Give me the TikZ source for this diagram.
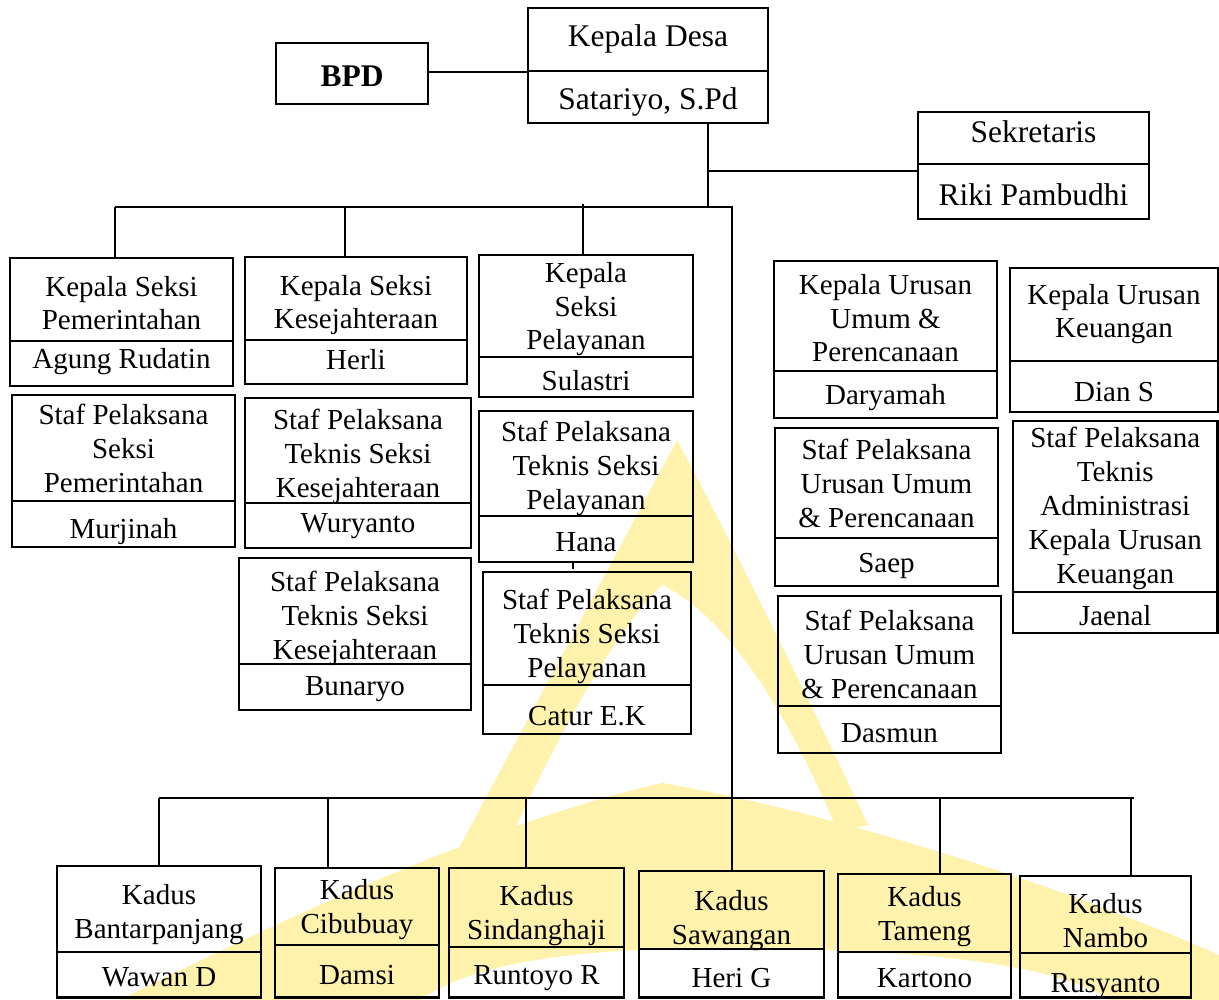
\documentclass[tikz,border=0pt]{standalone}
\usepackage{fontspec}
\setmainfont{Liberation Serif}
\definecolor{wm}{RGB}{255,242,172}
\tikzset{
 boxst/.style={draw, line width=2.9pt, inner sep=0pt, outer sep=0pt, anchor=north west},
 divst/.style={line width=1.2pt},
 conn/.style={line width=1.3pt},
 txt/.style={font=\fontsize{29}{33.8}\selectfont, align=center, anchor=base, inner sep=0pt},
 bigtxt/.style={font=\fontsize{31.5}{36}\selectfont, align=center, anchor=base, inner sep=0pt},
}
\newcommand\orgframe[6]{%
 \node[boxst, minimum width={(#4-#2)*1pt}, minimum height={(#5-#3)*1pt}] (#1) at (#2,#3) {};
 \draw[divst] (#2,#6) -- (#4,#6);}
\begin{document}
\begin{tikzpicture}[x=1pt,y=-1pt]
\useasboundingbox (0,0) rectangle (1219,1000);
\fill[white] (0,0) rectangle (1219,1000);
% watermark
\fill[wm] (677,440) .. controls (720,520) and (800,680) .. (868,825) -- (838,832)
  .. controls (795,730) and (735,620) .. (662,585)
  .. controls (615,630) and (555,740) .. (505,850) -- (458,850)
  -- cycle;
\fill[wm] (120,1000) .. controls (300,910) and (500,820) .. (662,783)
  .. controls (820,810) and (1050,880) .. (1219,955) -- (1219,1000) -- (1110,1000)
  .. controls (1050,960) and (900,948) .. (700,948)
  .. controls (560,950) and (470,965) .. (420,1000) -- cycle;
% boxes
\node[boxst, minimum width=152pt, minimum height=61pt] (bpd) at (276,43) {};
\node[bigtxt, font=\fontsize{31.5}{36}\selectfont\bfseries] (bpdt) at (bpd.center |- 0,87) {BPD};
\orgframe{kd}{528}{8}{768}{123}{71}
\node[bigtxt] (kdt) at (kd |- 0,47) {Kepala Desa};
\node[bigtxt] (kdb) at (kd |- 0,110) {Satariyo, S.Pd};
\orgframe{sek}{918}{112}{1149}{219}{164}
\node[bigtxt] (sekt) at (sek |- 0,143) {Sekretaris};
\node[bigtxt] (sekb) at (sek |- 0,206) {Riki Pambudhi};
\orgframe{ksp}{10}{258}{233}{386}{341}
\node[txt] (kspt) at (ksp |- 0,330) {Kepala Seksi\\Pemerintahan};
\node[txt] (kspb) at (ksp |- 0,369) {Agung Rudatin};
\orgframe{ksk}{245}{257}{467}{384}{340}
\node[txt] (kskt) at (ksk |- 0,329) {Kepala Seksi\\Kesejahteraan};
\node[txt] (kskb) at (ksk |- 0,370) {Herli};
\orgframe{ksl}{479}{255}{693}{397}{357}
\node[txt] (kslt) at (ksl |- 0,350) {Kepala\\Seksi\\Pelayanan};
\node[txt] (kslb) at (ksl |- 0,391) {Sulastri};
\orgframe{sp1}{12}{395}{235}{547}{501}
\node[txt] (sp1t) at (sp1 |- 0,492) {Staf Pelaksana\\Seksi\\Pemerintahan};
\node[txt] (sp1b) at (sp1 |- 0,538) {Murjinah};
\orgframe{sk1}{245}{398}{471}{548}{503}
\node[txt] (sk1t) at (sk1 |- 0,497) {Staf Pelaksana\\Teknis Seksi\\Kesejahteraan};
\node[txt] (sk1b) at (sk1 |- 0,532) {Wuryanto};
\orgframe{sk2}{239}{558}{471}{710}{664}
\node[txt] (sk2t) at (sk2 |- 0,659) {Staf Pelaksana\\Teknis Seksi\\Kesejahteraan};
\node[txt] (sk2b) at (sk2 |- 0,695) {Bunaryo};
\orgframe{sl1}{479}{411}{693}{562}{516}
\node[txt] (sl1t) at (sl1 |- 0,509) {Staf Pelaksana\\Teknis Seksi\\Pelayanan};
\node[txt] (sl1b) at (sl1 |- 0,551) {Hana};
\orgframe{sl2}{483}{572}{691}{734}{685}
\node[txt] (sl2t) at (sl2 |- 0,677) {Staf Pelaksana\\Teknis Seksi\\Pelayanan};
\node[txt] (sl2b) at (sl2 |- 0,725) {Catur E.K};
\orgframe{kuu}{774}{261}{997}{418}{371}
\node[txt] (kuut) at (kuu |- 0,362) {Kepala Urusan\\Umum \&\\Perencanaan};
\node[txt] (kuub) at (kuu |- 0,405) {Daryamah};
\orgframe{kuk}{1010}{268}{1218}{412}{361}
\node[txt] (kukt) at (kuk |- 0,338) {Kepala Urusan\\Keuangan};
\node[txt] (kukb) at (kuk |- 0,402) {Dian S};
\orgframe{su1}{775}{428}{998}{586}{538}
\node[txt] (su1t) at (su1 |- 0,527) {Staf Pelaksana\\Urusan Umum\\\& Perencanaan};
\node[txt] (su1b) at (su1 |- 0,572) {Saep};
\orgframe{su2}{778}{596}{1001}{753}{706}
\node[txt] (su2t) at (su2 |- 0,698) {Staf Pelaksana\\Urusan Umum\\\& Perencanaan};
\node[txt] (su2b) at (su2 |- 0,742) {Dasmun};
\orgframe{skk}{1013}{421}{1217.5}{633}{592}
\node[txt] (skkt) at (skk |- 0,583) {Staf Pelaksana\\Teknis\\Administrasi\\Kepala Urusan\\Keuangan};
\node[txt] (skkb) at (skk |- 0,625) {Jaenal};
% kadus
\orgframe{bp}{57}{866}{261}{997.5}{952}
\node[txt] (bpt) at (bp |- 0,938) {Kadus\\Bantarpanjang};
\node[txt] (bpb) at (bp |- 0,986) {Wawan D};
\orgframe{cb}{275}{868}{439}{997.5}{945}
\node[txt] (cbt) at (cb |- 0,933) {Kadus\\Cibubuay};
\node[txt] (cbb) at (cb |- 0,984) {Damsi};
\orgframe{sh}{449}{868}{624}{997.5}{947}
\node[txt] (sht) at (sh |- 0,939) {Kadus\\Sindanghaji};
\node[txt] (shb) at (sh |- 0,984) {Runtoyo R};
\orgframe{sw}{639}{871}{824}{997.5}{949}
\node[txt] (swt) at (sw |- 0,944) {Kadus\\Sawangan};
\node[txt] (swb) at (sw |- 0,987) {Heri G};
\orgframe{tm}{838}{874}{1011}{997.5}{952}
\node[txt] (tmt) at (tm |- 0,940) {Kadus\\Tameng};
\node[txt] (tmb) at (tm |- 0,987) {Kartono};
\orgframe{nb}{1020}{876}{1191}{997.5}{953}
\node[txt] (nbt) at (nb |- 0,947) {Kadus\\Nambo};
\node[txt] (nbb) at (nb |- 0,992) {Rusyanto};
% junctions
\coordinate (jA) at (708,207);
\coordinate (jS) at (708,171);
\coordinate (jL) at (115,207);
\coordinate (jR) at (732,207);
\coordinate (jD) at (732,798);
\coordinate (jBL) at (159,798);
\coordinate (jBR) at (1134,798);
% connectors
\draw[conn] (bpd.east |- 0,72) -- (kd.west |- 0,72);
\draw[conn] (kd.south -| jA) -- (jA);
\draw[conn] (jS) -- (sek.west |- jS);
\draw[conn] (jL) -- (jR) -- (jD);
\draw[conn] (jL) -- (jL |- ksp.north);
\draw[conn] (345,207) -- (ksk.north -| 345,0);
\draw[conn] (583,204) -- (ksl.north -| 583,0);
\draw[conn] (sl1.south -| 573,0) -- ++(0,7);
\draw[conn] (jBL) -- (jBR);
\draw[conn] (jBL) -- (jBL |- bp.north);
\draw[conn] (328,798) -- (cb.north -| 328,0);
\draw[conn] (526,798) -- (sh.north -| 526,0);
\draw[conn] (jD) -- (sw.north -| jD);
\draw[conn] (940,798) -- (tm.north -| 940,0);
\draw[conn] (1131,798) -- (nb.north -| 1131,0);
\end{tikzpicture}
\end{document}
